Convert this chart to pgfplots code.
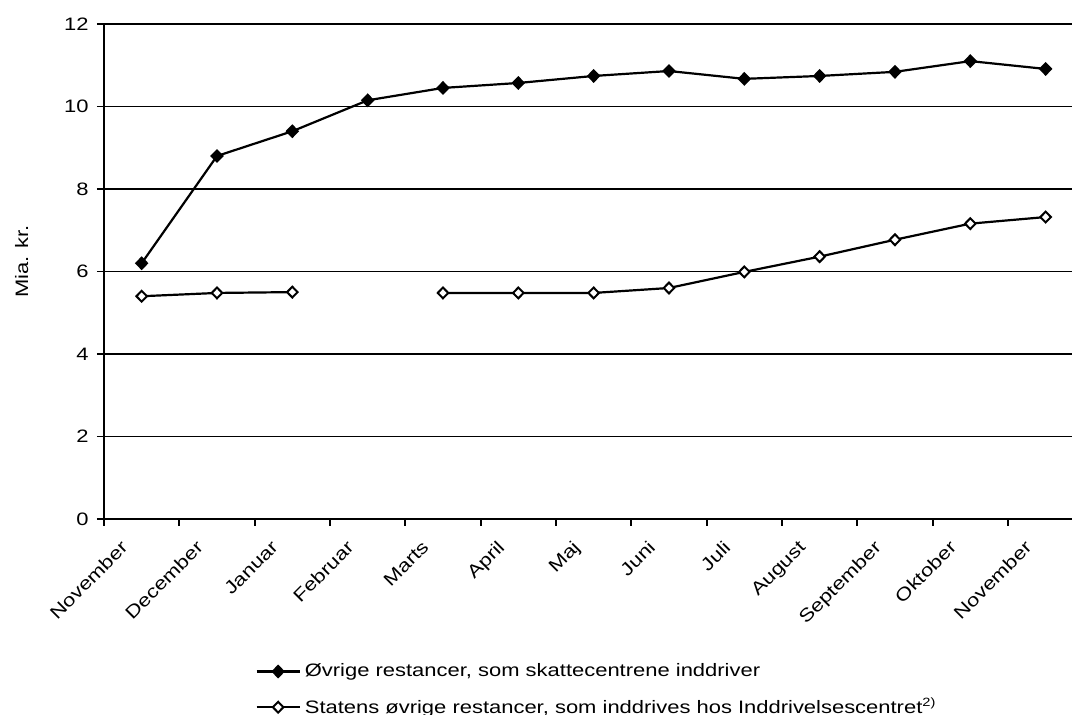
\documentclass[border=0pt]{standalone}
\usepackage{fontspec}
\setmainfont{Liberation Sans}[FakeStretch=1.22]
\usepackage{pgfplots}
\pgfplotsset{compat=1.18}

% values (Mia. kr.), one point per month
\pgfplotstableread{
x  a      b
0  6.20   5.40
1  8.80   5.48
2  9.40   5.50
3  10.15  nan
4  10.45  5.48
5  10.57  5.48
6  10.74  5.48
7  10.86  5.60
8  10.67  5.99
9  10.74  6.36
10 10.84  6.77
11 11.10  7.16
12 10.91  7.32
}\restancer

\begin{document}
\begin{tikzpicture}
\useasboundingbox (-52pt,-98pt) rectangle (484pt,259.5pt);
\begin{axis}[
    at={(0,0)}, anchor=south west,
    scale only axis,
    width=484pt, height=247.5pt,
    font=\fontsize{9}{11}\selectfont,
    /pgf/number format/assume math mode=true,
    xmin=-0.5, xmax=12.35,
    ymin=0, ymax=12,
    axis x line=bottom, axis y line=left,
    axis line style={-, line width=1.1pt},
    tick align=outside,
    major tick length=3.5pt,
    tick style={black, line width=0.9pt},
    xtick={-0.5,0.5,...,11.5},
    xticklabels={},
    extra x ticks={0,1,...,12},
    extra x tick labels={November,December,Januar,Februar,Marts,April,Maj,Juni,Juli,August,September,Oktober,November},
    extra x tick style={major tick length=0pt},
    xticklabel style={xshift=-11pt, yshift=-10pt, rotate=45, anchor=north east, inner sep=0pt},
    ytick={0,2,...,12},
    yticklabel style={inner sep=0pt, xshift=-4pt},
    ymajorgrids=true,
    grid style={black, line width=0.9pt},
    ylabel={Mia. kr.},
    ylabel style={at={(axis description cs:-0.085,0.52)}, anchor=center},
    unbounded coords=jump,
    legend cell align=left,
    legend style={at={(axis description cs:0.156,-0.283)}, anchor=north west,
        draw=none, fill=none, inner sep=0pt, row sep=5pt,
        font=\fontsize{9}{11}\selectfont},
    legend image code/.code={\draw[mark repeat=2,mark phase=2]
        plot coordinates {(0cm,0cm) (0.38cm,0cm) (0.76cm,0cm)};},
]
\addplot[black, line width=1.1pt, mark=diamond*, mark size=2.7pt,
    mark options={solid, fill=black, xscale=1.3}]
    table[x=x, y=a] {\restancer};
\addlegendentry{Øvrige restancer, som skattecentrene inddriver}

\addplot[black, line width=1.1pt, mark=diamond*, mark size=2.7pt,
    mark options={solid, fill=white, line width=1pt, xscale=1.3}]
    table[x=x, y=b] {\restancer};
\addlegendentry{Statens øvrige restancer, som inddrives hos Inddrivelsescentret\textsuperscript{2)}}
\end{axis}
\end{tikzpicture}
\end{document}
